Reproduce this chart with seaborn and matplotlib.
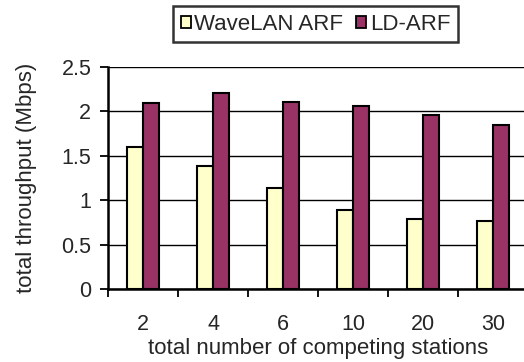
import matplotlib
matplotlib.use("Agg")
import matplotlib.pyplot as plt
import seaborn as sns
import pandas as pd
import numpy as np

stations = ["2", "4", "6", "10", "20", "30"]
wavelan_arf = [1.60, 1.38, 1.14, 0.89, 0.79, 0.77]
ld_arf = [2.09, 2.21, 2.11, 2.06, 1.96, 1.85]
series_names = ["WaveLAN ARF", "LD-ARF"]
yticks = [0, 0.5, 1, 1.5, 2, 2.5]
ytick_labels = ["0", "0.5", "1", "1.5", "2", "2.5"]

df = pd.DataFrame({
    "stations": stations * 2,
    "throughput": wavelan_arf + ld_arf,
    "scheme": [series_names[0]] * len(stations) + [series_names[1]] * len(stations),
})

sns.set_style("white")
plt.rcParams["font.family"] = ["Liberation Sans", "DejaVu Sans"]
FS = 16
TFS = 15.5

fig = plt.figure(figsize=(5.24, 3.62), dpi=100)
ax = fig.add_axes([108 / 524, 1 - 289 / 362, (528 - 108) / 524, (289 - 67) / 362])

palette = {"WaveLAN ARF": "#FFFFCC", "LD-ARF": "#993366"}
sns.barplot(data=df, x="stations", y="throughput", hue="scheme", order=stations,
            hue_order=series_names, palette=palette, width=0.45, gap=0,
            edgecolor="black", linewidth=1.5, saturation=1, ax=ax, zorder=3)

ax.set_xlim(-0.5, len(stations) - 0.5)
ax.set_ylim(0, 2.5)
ax.set_yticks(yticks)
ax.set_yticklabels(ytick_labels, fontsize=TFS)
ax.yaxis.grid(True, color="black", linewidth=1.0, zorder=0)
ax.set_axisbelow(True)

# category labels centred, tick marks on group boundaries
ax.set_xticks(range(len(stations)))
ax.set_xticklabels(stations, fontsize=TFS)
ax.tick_params(axis="x", which="major", length=0, pad=18)
ax.set_xticks(np.arange(-0.5, len(stations), 1.0), minor=True)
ax.tick_params(axis="x", which="minor", length=6, width=1.3, direction="out", color="black", bottom=True)
ax.tick_params(axis="y", length=6, width=1.3, direction="out", color="black", left=True, pad=6)

for side in ["top", "right"]:
    ax.spines[side].set_visible(False)
for side in ["left", "bottom"]:
    ax.spines[side].set_color("black")
    ax.spines[side].set_linewidth(1.8)

ax.set_xlabel("total number of competing stations", fontsize=FS)
ax.xaxis.set_label_coords(0.5, -0.22)
ax.set_ylabel("total throughput (Mbps)", fontsize=FS)
ax.yaxis.set_label_coords(-0.17, 0.5)

ax.get_legend().remove()
handles = [plt.Rectangle((0, 0), 1, 1, facecolor=palette[n], edgecolor="black", linewidth=1.3)
           for n in series_names]
leg = fig.legend(handles, series_names, loc="center", bbox_to_anchor=(315.5 / 524, 1 - 24 / 362),
                 ncol=2, fontsize=FS, frameon=True, fancybox=False, handlelength=0.45,
                 handleheight=0.45, handletextpad=0.15, columnspacing=0.6, borderpad=0.35,
                 borderaxespad=0)
leg.get_frame().set_edgecolor("black")
leg.get_frame().set_linewidth(1.8)

fig.savefig("out.png", dpi=100)
